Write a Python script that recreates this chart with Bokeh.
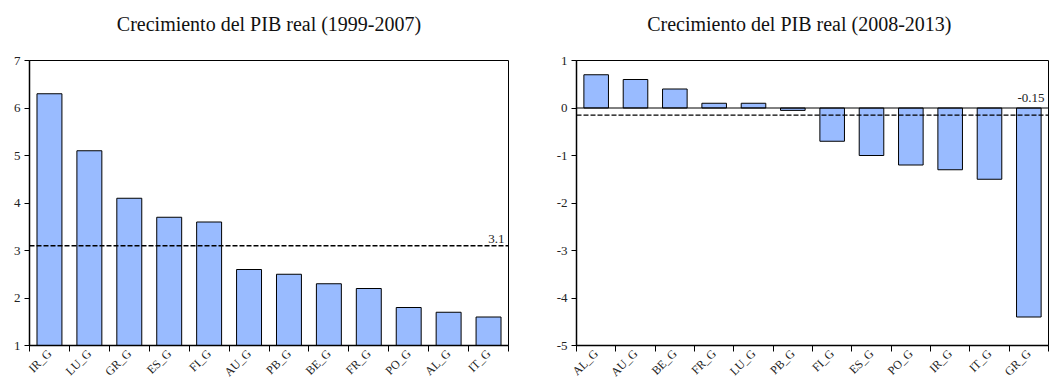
from bokeh.plotting import figure
from bokeh.layouts import row
from bokeh.models import Span, Label, FixedTicker, Title, Range1d, ColumnDataSource
from bokeh.embed import file_html
from bokeh.resources import INLINE

# Data
cats_1 = ["IR_G", "LU_G", "GR_G", "ES_G", "FI_G", "AU_G", "PB_G", "BE_G", "FR_G", "PO_G", "AL_G", "IT_G"]
vals_1 = [6.3, 5.1, 4.1, 3.7, 3.6, 2.6, 2.5, 2.3, 2.2, 1.8, 1.7, 1.6]
mean_1 = 3.1
mean_1_label = "3.1"
yticks_1 = [1, 2, 3, 4, 5, 6, 7]
title_1 = "Crecimiento del PIB real (1999-2007)"

cats_2 = ["AL_G", "AU_G", "BE_G", "FR_G", "LU_G", "PB_G", "FI_G", "ES_G", "PO_G", "IR_G", "IT_G", "GR_G"]
vals_2 = [0.7, 0.6, 0.4, 0.1, 0.1, -0.05, -0.7, -1.0, -1.2, -1.3, -1.5, -4.4]
mean_2 = -0.15
mean_2_label = "-0.15"
yticks_2 = [-5, -4, -3, -2, -1, 0, 1]
title_2 = "Crecimiento del PIB real (2008-2013)"

FONT = "Liberation Serif"
BAR = "#99bbff"


def make_panel(cats, vals, yticks, mean, mean_label, label_dy, title, title_align, title_offset,
               width, border_left, border_right, zero_line):
    n = len(cats)
    p = figure(width=width, height=387, output_backend="svg", toolbar_location=None,
               x_range=Range1d(0, n), y_range=Range1d(min(yticks), max(yticks)),
               min_border_left=border_left, min_border_right=border_right,
               min_border_top=60, min_border_bottom=42)
    p.title.visible = False
    # invisible spacer between the frame and the title
    p.add_layout(Title(text=" ", text_font_size="2px", standoff=22), "above")
    p.add_layout(Title(text=title, align=title_align, offset=title_offset, standoff=0,
                       vertical_align="bottom", text_font=FONT, text_font_size="20px",
                       text_font_style="normal", text_color="#111111"), "above")
    centers = [i + 0.5 for i in range(n)]
    src = ColumnDataSource(dict(x=centers, top=vals))
    p.vbar(x="x", top="top", bottom=0, width=0.625, source=src,
           fill_color=BAR, line_color="black", line_width=1)
    if zero_line:
        p.add_layout(Span(location=0, dimension="width", line_color="black", line_width=1))
    p.add_layout(Span(location=mean, dimension="width", line_color="black",
                      line_width=1.4, line_dash="5 2"))
    p.add_layout(Label(x=n, y=mean, text=mean_label, text_align="right",
                       text_baseline="bottom", x_offset=-4, y_offset=label_dy, text_font=FONT,
                       text_font_size="13px", text_color="#222222"))
    p.xgrid.visible = False
    p.ygrid.visible = False
    p.outline_line_color = "black"
    p.outline_line_width = 1
    p.background_fill_color = "white"

    xa = p.xaxis[0]
    xa.ticker = FixedTicker(ticks=centers, minor_ticks=list(range(n + 1)))
    xa.major_label_overrides = {c: lab for c, lab in zip(centers, cats)}
    xa.major_label_orientation = 0.785398
    xa.major_tick_line_color = None
    xa.major_tick_out = 0
    xa.major_tick_in = 0
    xa.minor_tick_line_color = "black"
    xa.minor_tick_out = 6
    xa.minor_tick_in = 0
    xa.minor_tick_line_width = 1
    xa.axis_line_width = 1.5
    xa.axis_line_color = "black"
    xa.major_label_text_font = FONT
    xa.major_label_text_font_size = "12px"
    xa.major_label_text_color = "#222222"
    xa.major_label_standoff = 0

    ya = p.yaxis[0]
    ya.ticker = FixedTicker(ticks=yticks)
    ya.major_label_overrides = {v: str(v) for v in yticks}
    ya.minor_tick_line_color = None
    ya.major_tick_out = 5
    ya.major_tick_in = 0
    ya.axis_line_width = 1.5
    ya.axis_line_color = "black"
    ya.major_label_text_font = FONT
    ya.major_label_text_font_size = "13px"
    ya.major_label_text_color = "#222222"
    ya.major_label_standoff = 4
    return p


p1 = make_panel(cats_1, vals_1, yticks_1, mean_1, mean_1_label, 3, title_1, "center", 0,
                525, 29, 17, False)
p2 = make_panel(cats_2, vals_2, yticks_2, mean_2, mean_2_label, 13, title_2, "right", 97,
                524, 51, 1, True)

p = row(p1, p2)
open("out.html", "w").write(file_html(p, INLINE))
